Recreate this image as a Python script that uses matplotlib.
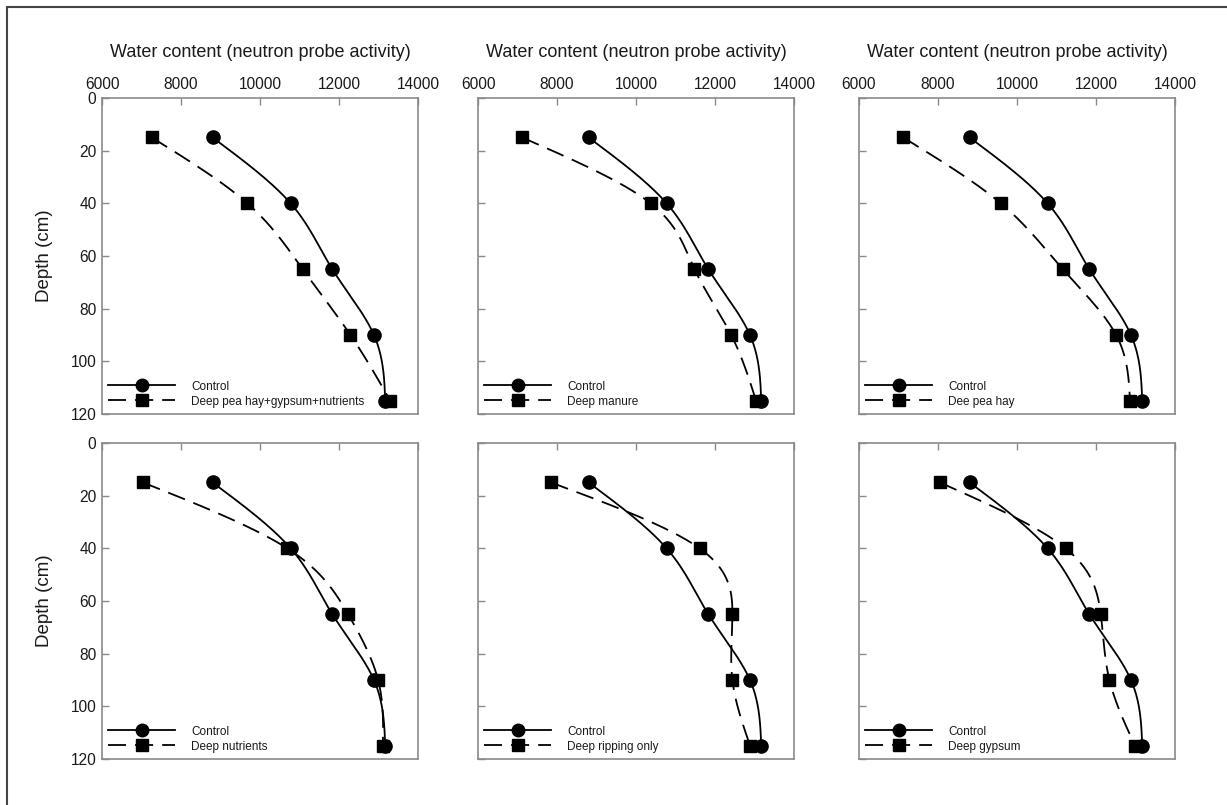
import numpy as np
import matplotlib
matplotlib.use("Agg")
import matplotlib.pyplot as plt
from matplotlib.patches import Rectangle

plt.rcParams['font.family'] = ['Liberation Sans', 'DejaVu Sans']

# Dados (profundidade em cm, atividade da sonda)
depth = [15, 40, 65, 90, 115]
control = [8800, 10775, 11830, 12885, 13170]

treat_names = ["Deep pea hay+gypsum+nutrients", "Deep manure", "Dee pea hay",
               "Deep nutrients", "Deep ripping only", "Deep gypsum"]
pea_gyp_nut = [7260, 9680, 11080, 12290, 13300]
manure = [7120, 10370, 11480, 12410, 13040]
pea_hay = [7120, 9590, 11160, 12510, 12860]
nutrients = [7040, 10690, 12230, 12990, 13110]
ripping = [7850, 11610, 12440, 12440, 12890]
gypsum = [8050, 11230, 12120, 12340, 12990]
treatments = [pea_gyp_nut, manure, pea_hay, nutrients, ripping, gypsum]

xticks = [6000, 8000, 10000, 12000, 14000]
yticks = [0, 20, 40, 60, 80, 100, 120]


def spline(y, x, n=200):
    # spline cubica natural x(y), so para desenhar a curva suave
    y = np.asarray(y, float)
    x = np.asarray(x, float)
    k = len(y)
    h = np.diff(y)
    A = np.zeros((k, k))
    b = np.zeros(k)
    A[0, 0] = A[-1, -1] = 1
    for i in range(1, k - 1):
        A[i, i - 1] = h[i - 1]
        A[i, i] = 2 * (h[i - 1] + h[i])
        A[i, i + 1] = h[i]
        b[i] = 6 * ((x[i + 1] - x[i]) / h[i] - (x[i] - x[i - 1]) / h[i - 1])
    M = np.linalg.solve(A, b)
    yy = np.linspace(y[0], y[-1], n)
    idx = np.clip(np.searchsorted(y, yy) - 1, 0, k - 2)
    t0 = y[idx]
    t1 = y[idx + 1]
    hi = h[idx]
    xx = (M[idx] * (t1 - yy) ** 3 / (6 * hi) + M[idx + 1] * (yy - t0) ** 3 / (6 * hi)
          + (x[idx] / hi - M[idx] * hi / 6) * (t1 - yy)
          + (x[idx + 1] / hi - M[idx + 1] * hi / 6) * (yy - t0))
    return xx, yy


W, H = 1227, 805
fig = plt.figure(figsize=(W / 100, H / 100), dpi=100)

# moldura externa (so topo e esquerda aparecem)
fig.add_artist(Rectangle((7 / W, -0.1), 1.2, 1 - 7 / H + 0.1, transform=fig.transFigure,
                         fill=False, edgecolor='#444444', linewidth=1.5))

lefts = [102, 478, 859]
tops = [98, 443]
aw, ah = 316, 316
text_color = '#1a1a1a'
spine_color = '#8a8a8a'

for i, (name, vals) in enumerate(zip(treat_names, treatments)):
    r, c = divmod(i, 3)
    ax = fig.add_axes([lefts[c] / W, 1 - (tops[r] + ah) / H, aw / W, ah / H])

    xs, ys = spline(depth, control)
    ax.plot(xs, ys, color='black', lw=1.3)
    xt, yt = spline(depth, vals)
    ax.plot(xt, yt, color='black', lw=1.3, dashes=(10, 5))
    ax.plot(control, depth, 'o', color='black', ms=9.5)
    ax.plot(vals, depth, 's', color='black', ms=8.6)

    # entradas da legenda
    ax.plot([], [], color='black', lw=1.3, marker='o', ms=9, label="Control")
    ax.plot([], [], color='black', lw=1.3, marker='s', ms=8, dashes=(10, 5), label=name)
    handles, labels = ax.get_legend_handles_labels()
    ax.legend(handles[-2:], labels[-2:], loc='lower left', frameon=False, fontsize=8.5,
              handlelength=5.6, handletextpad=1.4, labelspacing=0.25,
              borderaxespad=0.0, borderpad=0.55, labelcolor=text_color)

    ax.set_xlim(6000, 14000)
    ax.set_ylim(120, 0)
    ax.set_xticks(xticks)
    ax.set_yticks(yticks)
    ax.xaxis.tick_top()
    ax.tick_params(axis='both', direction='in', length=5, width=1, color=spine_color,
                   labelsize=11.2, labelcolor=text_color, pad=4)
    ax.tick_params(axis='x', top=True, bottom=False)
    ax.tick_params(axis='y', right=False)
    for s in ax.spines.values():
        s.set_color(spine_color)
        s.set_linewidth(1.2)

    if r == 0:
        ax.xaxis.set_label_position('top')
        ax.set_xlabel("Water content (neutron probe activity)", fontsize=13,
                      color=text_color, labelpad=15)
    else:
        ax.tick_params(axis='x', labeltop=False)
    if c == 0:
        ax.set_ylabel("Depth (cm)", fontsize=13.5, color=text_color, labelpad=13)
    else:
        ax.tick_params(axis='y', labelleft=False)

fig.savefig("out.png", dpi=100)
